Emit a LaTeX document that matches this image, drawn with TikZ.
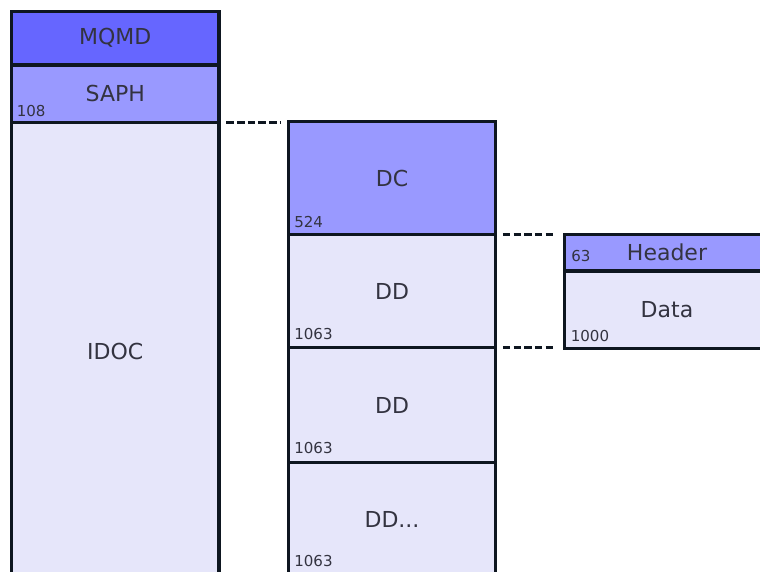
\documentclass[tikz,border=0pt]{standalone}
\usepackage{fontspec}
\setmainfont{DejaVu Sans}
\definecolor{cA}{HTML}{6666FF}
\definecolor{cB}{HTML}{9999FF}
\definecolor{cL}{HTML}{E6E6FA}
\definecolor{edgec}{HTML}{0E1620}
\definecolor{txt}{HTML}{333340}
\begin{document}
\begin{tikzpicture}[x=0.75pt,y=-0.75pt,
  box/.style={draw=edgec, line width=2.4pt, text=txt, font=\fontsize{16.5}{19}\selectfont,
    inner sep=0pt, outer sep=0pt, anchor=north west},
  num/.style={text=txt, font=\fontsize{11.3}{13}\selectfont, anchor=base west, inner sep=0pt},
  link/.style={draw=edgec, line width=2.4pt, dash pattern=on 5.6pt off 2.4pt,
    shorten <=5.6pt, shorten >=6.2pt}]
\useasboundingbox (0,0) rectangle (760,571);
\fill[white] (0,0) rectangle (760,571);
\clip (0,0) rectangle (760,571);
% left column
\node[box, fill=cL, minimum width=207.5*0.75pt, minimum height=457*0.75pt] (idoc) at (11.5,122.5) {IDOC};
\node[box, fill=cB, minimum width=207.5*0.75pt, minimum height=57.5*0.75pt] (saph) at (11.5,65) {SAPH};
\node[box, fill=cA, minimum width=207.5*0.75pt, minimum height=53.5*0.75pt] (mqmd) at (11.5,11.5) {MQMD};
% middle column
\node[box, fill=cL, minimum width=207*0.75pt, minimum height=113*0.75pt] (dd3) at (288.5,462.5) {DD...};
\node[box, fill=cL, minimum width=207*0.75pt, minimum height=115*0.75pt] (dd2) at (288.5,347.5) {DD};
\node[box, fill=cL, minimum width=207*0.75pt, minimum height=113*0.75pt] (dd1) at (288.5,234.5) {DD};
\node[box, fill=cB, minimum width=207*0.75pt, minimum height=113*0.75pt] (dc) at (288.5,121.5) {DC};
% right column
\node[box, fill=cL, minimum width=205*0.75pt, minimum height=77.5*0.75pt] (data) at (564.5,271) {Data};
\node[box, fill=cB, minimum width=205*0.75pt, minimum height=36.5*0.75pt] (hdr) at (564.5,234.5) {Header};
% size labels
\node[num] (n108) at (16.5,116) {108};
\node[num] (n524) at (294,227) {524};
\node[num] (n1063a) at (294,339.5) {1063};
\node[num] (n1063b) at (294,453.5) {1063};
\node[num] (n1063c) at (294,566.5) {1063};
\node[num] (n63) at (571,261.5) {63};
\node[num] (n1000) at (570.5,341) {1000};
% connectors
\draw[link] (saph.south east) -- (saph.south east -| dc.west);
\draw[link] (dd1.north east) -- (dd1.north east -| hdr.west);
\draw[link] (dd1.south east) -- (dd1.south east -| data.west);
\end{tikzpicture}
\end{document}
